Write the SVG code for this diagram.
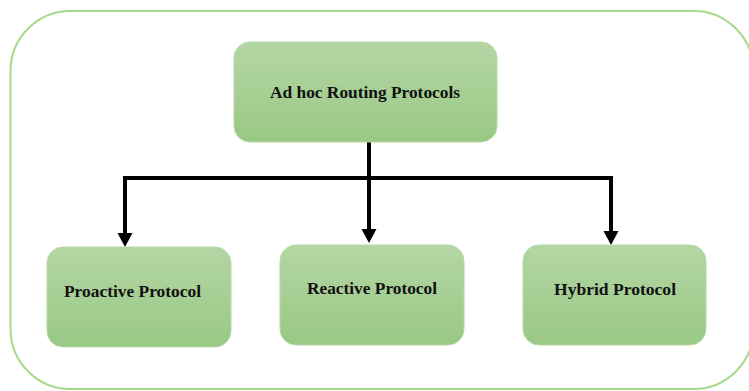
<svg xmlns="http://www.w3.org/2000/svg" width="749" height="391" viewBox="0 0 749 391">
  <defs>
    <linearGradient id="g" x1="0" y1="0" x2="0" y2="1">
      <stop offset="0" stop-color="#b4d6a4"/>
      <stop offset="1" stop-color="#99c885"/>
    </linearGradient>
    <marker id="arr" viewBox="0 0 15 14" refX="7.5" refY="13" markerWidth="15" markerHeight="14" markerUnits="userSpaceOnUse" orient="auto-start-reverse">
      <path d="M0,0 L15,0 L7.5,14 Z" fill="#000"/>
    </marker>
  </defs>
  <style>
    .frame { fill: #fff; stroke: #a6d98a; stroke-width: 2; }
    .box { fill: url(#g); stroke: #b5d9a3; stroke-width: 1; }
    .lbl { font-family: "Liberation Serif", "Times New Roman", serif; font-weight: bold; font-size: 16px; fill: #111; }
    .conn { fill: none; stroke: #000; stroke-width: 4; }
  </style>
  <rect width="749" height="391" fill="#fff"/>
  <rect class="frame" x="10.5" y="11" width="743" height="378" rx="60" ry="60"/>

  <g id="connectors">
    <line class="conn" x1="369" y1="142" x2="369" y2="230"/>
    <polyline class="conn" points="125,233 125,178 611,178 611,231"/>
    <path d="M361.5,229 L376.5,229 L369,243 Z" fill="#000"/>
    <path d="M117.5,233 L132.5,233 L125,247 Z" fill="#000"/>
    <path d="M603.5,231 L618.5,231 L611,245 Z" fill="#000"/>
  </g>

  <g id="root">
    <rect class="box" x="234" y="42" width="263" height="100" rx="16"/>
    <text class="lbl" x="270" y="98" textLength="190" lengthAdjust="spacingAndGlyphs">Ad hoc Routing Protocols</text>
  </g>
  <g id="proactive">
    <rect class="box" x="47" y="247" width="184" height="100" rx="16"/>
    <text class="lbl" x="64" y="297" textLength="137" lengthAdjust="spacingAndGlyphs">Proactive Protocol</text>
  </g>
  <g id="reactive">
    <rect class="box" x="280" y="245" width="184" height="100" rx="16"/>
    <text class="lbl" x="307" y="294" textLength="130" lengthAdjust="spacingAndGlyphs">Reactive Protocol</text>
  </g>
  <g id="hybrid">
    <rect class="box" x="523" y="245" width="183" height="100" rx="16"/>
    <text class="lbl" x="554" y="295" textLength="122" lengthAdjust="spacingAndGlyphs">Hybrid Protocol</text>
  </g>
</svg>
